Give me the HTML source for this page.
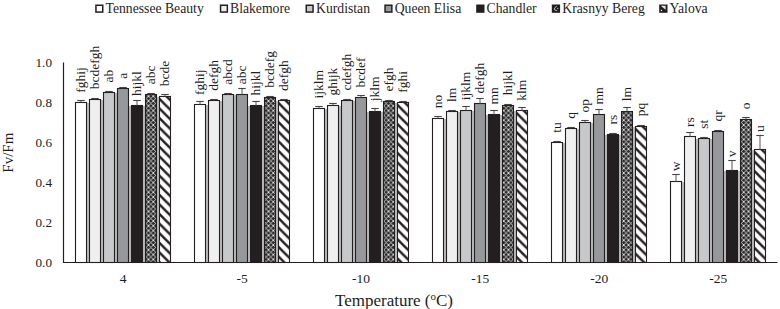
<!DOCTYPE html>
<html><head><meta charset="utf-8"><style>
html,body{margin:0;padding:0;background:#fff;}
body{width:780px;height:309px;overflow:hidden;}
svg{display:block;}
text{font-family:"Liberation Serif",serif;fill:#1e1e1e;}
</style></head><body>
<svg width="780" height="309" viewBox="0 0 780 309">
<defs>
<pattern id="kb" patternUnits="userSpaceOnUse" width="4.8" height="4.8" x="-0.3" y="0.2">
<rect width="4.8" height="4.8" fill="#2a2a2a"/>
<path d="M0,0L4.8,4.8M4.8,0L0,4.8" stroke="#e2e2e2" stroke-width="0.85"/>
<circle cx="0" cy="0" r="0.6" fill="#fff"/><circle cx="4.8" cy="0" r="0.6" fill="#fff"/><circle cx="0" cy="4.8" r="0.6" fill="#fff"/><circle cx="4.8" cy="4.8" r="0.6" fill="#fff"/>
</pattern>
<pattern id="ya" patternUnits="userSpaceOnUse" width="9.8" height="9.8">
<rect width="9.8" height="9.8" fill="#fff"/>
<path d="M-2,-2L11.8,11.8M-7,2.8L2.8,12.6M2.8,-7L12.6,2.8" stroke="#231f20" stroke-width="3.1"/>
</pattern>
</defs>

<line x1="63.5" y1="62.5" x2="63.5" y2="263" stroke="#231f20" stroke-width="1.2"/>
<line x1="63" y1="262.5" x2="777.5" y2="262.5" stroke="#231f20" stroke-width="1.2"/>
<text x="52" y="267.0" font-size="13.2" text-anchor="end">0.0</text>
<text x="52" y="227.0" font-size="13.2" text-anchor="end">0.2</text>
<text x="52" y="187.0" font-size="13.2" text-anchor="end">0.4</text>
<text x="52" y="147.0" font-size="13.2" text-anchor="end">0.6</text>
<text x="52" y="107.0" font-size="13.2" text-anchor="end">0.8</text>
<text x="52" y="67.0" font-size="13.2" text-anchor="end">1.0</text>
<text x="123.0" y="283.3" font-size="13.5" text-anchor="middle">4</text>
<text x="242.1" y="283.3" font-size="13.5" text-anchor="middle">-5</text>
<text x="361.1" y="283.3" font-size="13.5" text-anchor="middle">-10</text>
<text x="480.2" y="283.3" font-size="13.5" text-anchor="middle">-15</text>
<text x="599.2" y="283.3" font-size="13.5" text-anchor="middle">-20</text>
<text x="718.3" y="283.3" font-size="13.5" text-anchor="middle">-25</text>
<text x="394" y="305.6" font-size="17" text-anchor="middle">Temperature (<tspan font-size="11" dy="-6">o</tspan><tspan dy="6">C)</tspan></text>
<text transform="translate(13,152.7) rotate(-90)" font-size="15" text-anchor="middle">Fv/Fm</text>
<rect x="87" y="103" width="2" height="159" fill="#bdbdbd"/>
<rect x="101" y="100" width="2" height="162" fill="#bdbdbd"/>
<rect x="115" y="93" width="2" height="169" fill="#bdbdbd"/>
<rect x="129" y="106" width="2" height="156" fill="#bdbdbd"/>
<rect x="143" y="106" width="2" height="156" fill="#bdbdbd"/>
<rect x="157" y="97" width="2" height="165" fill="#bdbdbd"/>
<rect x="206" y="105" width="2" height="157" fill="#bdbdbd"/>
<rect x="220" y="101" width="2" height="161" fill="#bdbdbd"/>
<rect x="234" y="95" width="2" height="167" fill="#bdbdbd"/>
<rect x="248" y="106" width="2" height="156" fill="#bdbdbd"/>
<rect x="262" y="106" width="2" height="156" fill="#bdbdbd"/>
<rect x="276" y="101" width="2" height="161" fill="#bdbdbd"/>
<rect x="325" y="109" width="2" height="153" fill="#bdbdbd"/>
<rect x="339" y="106" width="2" height="156" fill="#bdbdbd"/>
<rect x="353" y="101" width="2" height="161" fill="#bdbdbd"/>
<rect x="367" y="112" width="2" height="150" fill="#bdbdbd"/>
<rect x="381" y="112" width="2" height="150" fill="#bdbdbd"/>
<rect x="395" y="103" width="2" height="159" fill="#bdbdbd"/>
<rect x="444" y="119" width="2" height="143" fill="#bdbdbd"/>
<rect x="458" y="112" width="2" height="150" fill="#bdbdbd"/>
<rect x="472" y="111" width="2" height="151" fill="#bdbdbd"/>
<rect x="486" y="115" width="2" height="147" fill="#bdbdbd"/>
<rect x="500" y="115" width="2" height="147" fill="#bdbdbd"/>
<rect x="514" y="111" width="2" height="151" fill="#bdbdbd"/>
<rect x="563" y="143" width="2" height="119" fill="#bdbdbd"/>
<rect x="577" y="129" width="2" height="133" fill="#bdbdbd"/>
<rect x="591" y="123" width="2" height="139" fill="#bdbdbd"/>
<rect x="605" y="135" width="2" height="127" fill="#bdbdbd"/>
<rect x="619" y="135" width="2" height="127" fill="#bdbdbd"/>
<rect x="633" y="127" width="2" height="135" fill="#bdbdbd"/>
<rect x="682" y="182" width="2" height="80" fill="#bdbdbd"/>
<rect x="696" y="139" width="2" height="123" fill="#bdbdbd"/>
<rect x="710" y="139" width="2" height="123" fill="#bdbdbd"/>
<rect x="724" y="171" width="2" height="91" fill="#bdbdbd"/>
<rect x="738" y="171" width="2" height="91" fill="#bdbdbd"/>
<rect x="752" y="150" width="2" height="112" fill="#bdbdbd"/>
<rect x="75.50" y="102.50" width="11" height="160.00" fill="#ffffff" stroke="#231f20" stroke-width="1.1"/>
<path d="M81.00,102.50V100.50" stroke="#555" stroke-width="1" fill="none"/>
<path d="M77.25,100.50H84.75" stroke="#444" stroke-width="1.1" fill="none"/>
<text transform="translate(84.56,92.70) rotate(-90)" font-size="13.5">fghij</text>
<rect x="89.50" y="99.50" width="11" height="163.00" fill="#efefef" stroke="#231f20" stroke-width="1.1"/>
<path d="M95.00,99.50V98.50" stroke="#555" stroke-width="1" fill="none"/>
<path d="M91.25,98.50H98.75" stroke="#444" stroke-width="1.1" fill="none"/>
<text transform="translate(98.56,89.20) rotate(-90)" font-size="13.5">bcdefgh</text>
<rect x="103.50" y="92.50" width="11" height="170.00" fill="#c7c8ca" stroke="#231f20" stroke-width="1.1"/>
<path d="M109.00,92.50V91.50" stroke="#555" stroke-width="1" fill="none"/>
<path d="M105.25,91.50H112.75" stroke="#444" stroke-width="1.1" fill="none"/>
<text transform="translate(112.56,82.50) rotate(-90)" font-size="13.5">ab</text>
<rect x="117.50" y="88.50" width="11" height="174.00" fill="#97989b" stroke="#231f20" stroke-width="1.1"/>
<path d="M123.00,88.50V87.50" stroke="#555" stroke-width="1" fill="none"/>
<path d="M119.25,87.50H126.75" stroke="#444" stroke-width="1.1" fill="none"/>
<text transform="translate(126.56,78.70) rotate(-90)" font-size="13.5">a</text>
<rect x="131.50" y="105.50" width="11" height="157.00" fill="#231f20" stroke="#231f20" stroke-width="1.1"/>
<path d="M137.00,105.50V100.50" stroke="#555" stroke-width="1" fill="none"/>
<path d="M133.25,100.50H140.75" stroke="#444" stroke-width="1.1" fill="none"/>
<text transform="translate(140.56,96.00) rotate(-90)" font-size="13.5">hijkl</text>
<rect x="145.50" y="94.50" width="11" height="168.00" fill="url(#kb)" stroke="#231f20" stroke-width="1.1"/>
<path d="M151.00,94.50V93.50" stroke="#555" stroke-width="1" fill="none"/>
<path d="M147.25,93.50H154.75" stroke="#444" stroke-width="1.1" fill="none"/>
<text transform="translate(154.56,84.20) rotate(-90)" font-size="13.5">abc</text>
<defs><pattern id="ya0" patternUnits="userSpaceOnUse" x="159" y="96.00" width="9.6" height="9.6"><rect width="9.6" height="9.6" fill="#fff"/><path d="M-3,-19.70L12.60,-4.10M-3,-10.10L12.60,5.50M-3,-0.50L12.60,15.10M-3,9.10L12.60,24.70" stroke="#231f20" stroke-width="2.40"/></pattern></defs>
<rect x="159.50" y="96.50" width="11" height="166.00" fill="url(#ya0)" stroke="#231f20" stroke-width="1.1"/>
<path d="M165.00,96.50V94.50" stroke="#555" stroke-width="1" fill="none"/>
<path d="M161.25,94.50H168.75" stroke="#444" stroke-width="1.1" fill="none"/>
<text transform="translate(168.56,86.20) rotate(-90)" font-size="13.5">bcde</text>
<rect x="194.50" y="104.50" width="11" height="158.00" fill="#ffffff" stroke="#231f20" stroke-width="1.1"/>
<path d="M200.00,104.50V101.50" stroke="#555" stroke-width="1" fill="none"/>
<path d="M196.25,101.50H203.75" stroke="#444" stroke-width="1.1" fill="none"/>
<text transform="translate(203.56,95.00) rotate(-90)" font-size="13.5">fghij</text>
<rect x="208.50" y="100.50" width="11" height="162.00" fill="#efefef" stroke="#231f20" stroke-width="1.1"/>
<path d="M214.00,100.50V99.50" stroke="#555" stroke-width="1" fill="none"/>
<path d="M210.25,99.50H217.75" stroke="#444" stroke-width="1.1" fill="none"/>
<text transform="translate(217.56,90.70) rotate(-90)" font-size="13.5">defgh</text>
<rect x="222.50" y="94.50" width="11" height="168.00" fill="#c7c8ca" stroke="#231f20" stroke-width="1.1"/>
<path d="M228.00,94.50V93.50" stroke="#555" stroke-width="1" fill="none"/>
<path d="M224.25,93.50H231.75" stroke="#444" stroke-width="1.1" fill="none"/>
<text transform="translate(231.56,84.70) rotate(-90)" font-size="13.5">abcd</text>
<rect x="236.50" y="94.50" width="11" height="168.00" fill="#97989b" stroke="#231f20" stroke-width="1.1"/>
<path d="M242.00,94.50V88.50" stroke="#555" stroke-width="1" fill="none"/>
<path d="M238.25,88.50H245.75" stroke="#444" stroke-width="1.1" fill="none"/>
<text transform="translate(245.56,84.20) rotate(-90)" font-size="13.5">abc</text>
<rect x="250.50" y="105.50" width="11" height="157.00" fill="#231f20" stroke="#231f20" stroke-width="1.1"/>
<path d="M256.00,105.50V101.50" stroke="#555" stroke-width="1" fill="none"/>
<path d="M252.25,101.50H259.75" stroke="#444" stroke-width="1.1" fill="none"/>
<text transform="translate(259.56,95.40) rotate(-90)" font-size="13.5">hijkl</text>
<rect x="264.50" y="97.50" width="11" height="165.00" fill="url(#kb)" stroke="#231f20" stroke-width="1.1"/>
<path d="M270.00,97.50V96.50" stroke="#555" stroke-width="1" fill="none"/>
<path d="M266.25,96.50H273.75" stroke="#444" stroke-width="1.1" fill="none"/>
<text transform="translate(273.56,87.70) rotate(-90)" font-size="13.5">bcdefg</text>
<defs><pattern id="ya1" patternUnits="userSpaceOnUse" x="278" y="100.00" width="9.6" height="9.6"><rect width="9.6" height="9.6" fill="#fff"/><path d="M-3,-19.70L12.60,-4.10M-3,-10.10L12.60,5.50M-3,-0.50L12.60,15.10M-3,9.10L12.60,24.70" stroke="#231f20" stroke-width="2.40"/></pattern></defs>
<rect x="278.50" y="100.50" width="11" height="162.00" fill="url(#ya1)" stroke="#231f20" stroke-width="1.1"/>
<path d="M284.00,100.50V99.50" stroke="#555" stroke-width="1" fill="none"/>
<path d="M280.25,99.50H287.75" stroke="#444" stroke-width="1.1" fill="none"/>
<text transform="translate(287.56,90.90) rotate(-90)" font-size="13.5">defgh</text>
<rect x="313.50" y="108.50" width="11" height="154.00" fill="#ffffff" stroke="#231f20" stroke-width="1.1"/>
<path d="M319.00,108.50V106.50" stroke="#555" stroke-width="1" fill="none"/>
<path d="M315.25,106.50H322.75" stroke="#444" stroke-width="1.1" fill="none"/>
<text transform="translate(322.56,98.40) rotate(-90)" font-size="13.5">ijklm</text>
<rect x="327.50" y="105.50" width="11" height="157.00" fill="#efefef" stroke="#231f20" stroke-width="1.1"/>
<path d="M333.00,105.50V103.50" stroke="#555" stroke-width="1" fill="none"/>
<path d="M329.25,103.50H336.75" stroke="#444" stroke-width="1.1" fill="none"/>
<text transform="translate(336.56,95.40) rotate(-90)" font-size="13.5">ghijk</text>
<rect x="341.50" y="100.50" width="11" height="162.00" fill="#c7c8ca" stroke="#231f20" stroke-width="1.1"/>
<path d="M347.00,100.50V99.50" stroke="#555" stroke-width="1" fill="none"/>
<path d="M343.25,99.50H350.75" stroke="#444" stroke-width="1.1" fill="none"/>
<text transform="translate(350.56,90.50) rotate(-90)" font-size="13.5">cdefgh</text>
<rect x="355.50" y="97.50" width="11" height="165.00" fill="#97989b" stroke="#231f20" stroke-width="1.1"/>
<path d="M361.00,97.50V95.50" stroke="#555" stroke-width="1" fill="none"/>
<path d="M357.25,95.50H364.75" stroke="#444" stroke-width="1.1" fill="none"/>
<text transform="translate(364.56,87.40) rotate(-90)" font-size="13.5">bcdef</text>
<rect x="369.50" y="111.50" width="11" height="151.00" fill="#231f20" stroke="#231f20" stroke-width="1.1"/>
<path d="M375.00,111.50V108.50" stroke="#555" stroke-width="1" fill="none"/>
<path d="M371.25,108.50H378.75" stroke="#444" stroke-width="1.1" fill="none"/>
<text transform="translate(378.56,101.20) rotate(-90)" font-size="13.5">jklm</text>
<rect x="383.50" y="101.50" width="11" height="161.00" fill="url(#kb)" stroke="#231f20" stroke-width="1.1"/>
<path d="M389.00,101.50V100.50" stroke="#555" stroke-width="1" fill="none"/>
<path d="M385.25,100.50H392.75" stroke="#444" stroke-width="1.1" fill="none"/>
<text transform="translate(392.56,91.40) rotate(-90)" font-size="13.5">efgh</text>
<defs><pattern id="ya2" patternUnits="userSpaceOnUse" x="397" y="102.00" width="9.6" height="9.6"><rect width="9.6" height="9.6" fill="#fff"/><path d="M-3,-19.70L12.60,-4.10M-3,-10.10L12.60,5.50M-3,-0.50L12.60,15.10M-3,9.10L12.60,24.70" stroke="#231f20" stroke-width="2.40"/></pattern></defs>
<rect x="397.50" y="102.50" width="11" height="160.00" fill="url(#ya2)" stroke="#231f20" stroke-width="1.1"/>
<path d="M403.00,102.50V101.50" stroke="#555" stroke-width="1" fill="none"/>
<path d="M399.25,101.50H406.75" stroke="#444" stroke-width="1.1" fill="none"/>
<text transform="translate(406.56,92.70) rotate(-90)" font-size="13.5">fghi</text>
<rect x="432.50" y="118.50" width="11" height="144.00" fill="#ffffff" stroke="#231f20" stroke-width="1.1"/>
<path d="M438.00,118.50V116.50" stroke="#555" stroke-width="1" fill="none"/>
<path d="M434.25,116.50H441.75" stroke="#444" stroke-width="1.1" fill="none"/>
<text transform="translate(441.56,108.20) rotate(-90)" font-size="13.5">no</text>
<rect x="446.50" y="111.50" width="11" height="151.00" fill="#efefef" stroke="#231f20" stroke-width="1.1"/>
<path d="M452.00,111.50V110.50" stroke="#555" stroke-width="1" fill="none"/>
<path d="M448.25,110.50H455.75" stroke="#444" stroke-width="1.1" fill="none"/>
<text transform="translate(455.56,102.00) rotate(-90)" font-size="13.5">lm</text>
<rect x="460.50" y="110.50" width="11" height="152.00" fill="#c7c8ca" stroke="#231f20" stroke-width="1.1"/>
<path d="M466.00,110.50V106.50" stroke="#555" stroke-width="1" fill="none"/>
<path d="M462.25,106.50H469.75" stroke="#444" stroke-width="1.1" fill="none"/>
<text transform="translate(469.56,100.20) rotate(-90)" font-size="13.5">ijklm</text>
<rect x="474.50" y="103.50" width="11" height="159.00" fill="#97989b" stroke="#231f20" stroke-width="1.1"/>
<path d="M480.00,103.50V98.50" stroke="#555" stroke-width="1" fill="none"/>
<path d="M476.25,98.50H483.75" stroke="#444" stroke-width="1.1" fill="none"/>
<text transform="translate(483.56,93.40) rotate(-90)" font-size="13.5">defgh</text>
<rect x="488.50" y="114.50" width="11" height="148.00" fill="#231f20" stroke="#231f20" stroke-width="1.1"/>
<path d="M494.00,114.50V110.50" stroke="#555" stroke-width="1" fill="none"/>
<path d="M490.25,110.50H497.75" stroke="#444" stroke-width="1.1" fill="none"/>
<text transform="translate(497.56,104.40) rotate(-90)" font-size="13.5">mn</text>
<rect x="502.50" y="105.50" width="11" height="157.00" fill="url(#kb)" stroke="#231f20" stroke-width="1.1"/>
<path d="M508.00,105.50V104.50" stroke="#555" stroke-width="1" fill="none"/>
<path d="M504.25,104.50H511.75" stroke="#444" stroke-width="1.1" fill="none"/>
<text transform="translate(511.56,95.20) rotate(-90)" font-size="13.5">hijkl</text>
<defs><pattern id="ya3" patternUnits="userSpaceOnUse" x="516" y="110.00" width="9.6" height="9.6"><rect width="9.6" height="9.6" fill="#fff"/><path d="M-3,-19.70L12.60,-4.10M-3,-10.10L12.60,5.50M-3,-0.50L12.60,15.10M-3,9.10L12.60,24.70" stroke="#231f20" stroke-width="2.40"/></pattern></defs>
<rect x="516.50" y="110.50" width="11" height="152.00" fill="url(#ya3)" stroke="#231f20" stroke-width="1.1"/>
<path d="M522.00,110.50V107.50" stroke="#555" stroke-width="1" fill="none"/>
<path d="M518.25,107.50H525.75" stroke="#444" stroke-width="1.1" fill="none"/>
<text transform="translate(525.56,100.70) rotate(-90)" font-size="13.5">klm</text>
<rect x="551.50" y="142.50" width="11" height="120.00" fill="#ffffff" stroke="#231f20" stroke-width="1.1"/>
<path d="M557.00,142.50V141.50" stroke="#555" stroke-width="1" fill="none"/>
<path d="M553.25,141.50H560.75" stroke="#444" stroke-width="1.1" fill="none"/>
<text transform="translate(560.56,132.70) rotate(-90)" font-size="13.5">tu</text>
<rect x="565.50" y="128.50" width="11" height="134.00" fill="#efefef" stroke="#231f20" stroke-width="1.1"/>
<path d="M571.00,128.50V127.50" stroke="#555" stroke-width="1" fill="none"/>
<path d="M567.25,127.50H574.75" stroke="#444" stroke-width="1.1" fill="none"/>
<text transform="translate(574.56,118.80) rotate(-90)" font-size="13.5">q</text>
<rect x="579.50" y="122.50" width="11" height="140.00" fill="#c7c8ca" stroke="#231f20" stroke-width="1.1"/>
<path d="M585.00,122.50V120.50" stroke="#555" stroke-width="1" fill="none"/>
<path d="M581.25,120.50H588.75" stroke="#444" stroke-width="1.1" fill="none"/>
<text transform="translate(588.56,112.40) rotate(-90)" font-size="13.5">op</text>
<rect x="593.50" y="114.50" width="11" height="148.00" fill="#97989b" stroke="#231f20" stroke-width="1.1"/>
<path d="M599.00,114.50V109.50" stroke="#555" stroke-width="1" fill="none"/>
<path d="M595.25,109.50H602.75" stroke="#444" stroke-width="1.1" fill="none"/>
<text transform="translate(602.56,104.40) rotate(-90)" font-size="13.5">mn</text>
<rect x="607.50" y="134.50" width="11" height="128.00" fill="#231f20" stroke="#231f20" stroke-width="1.1"/>
<path d="M613.00,134.50V133.50" stroke="#555" stroke-width="1" fill="none"/>
<path d="M609.25,133.50H616.75" stroke="#444" stroke-width="1.1" fill="none"/>
<text transform="translate(616.56,124.40) rotate(-90)" font-size="13.5">rs</text>
<rect x="621.50" y="111.50" width="11" height="151.00" fill="url(#kb)" stroke="#231f20" stroke-width="1.1"/>
<path d="M627.00,111.50V107.50" stroke="#555" stroke-width="1" fill="none"/>
<path d="M623.25,107.50H630.75" stroke="#444" stroke-width="1.1" fill="none"/>
<text transform="translate(630.56,101.20) rotate(-90)" font-size="13.5">lm</text>
<defs><pattern id="ya4" patternUnits="userSpaceOnUse" x="635" y="126.00" width="9.6" height="9.6"><rect width="9.6" height="9.6" fill="#fff"/><path d="M-3,-19.70L12.60,-4.10M-3,-10.10L12.60,5.50M-3,-0.50L12.60,15.10M-3,9.10L12.60,24.70" stroke="#231f20" stroke-width="2.40"/></pattern></defs>
<rect x="635.50" y="126.50" width="11" height="136.00" fill="url(#ya4)" stroke="#231f20" stroke-width="1.1"/>
<path d="M641.00,126.50V125.50" stroke="#555" stroke-width="1" fill="none"/>
<path d="M637.25,125.50H644.75" stroke="#444" stroke-width="1.1" fill="none"/>
<text transform="translate(644.56,116.20) rotate(-90)" font-size="13.5">pq</text>
<rect x="670.50" y="181.50" width="11" height="81.00" fill="#ffffff" stroke="#231f20" stroke-width="1.1"/>
<path d="M676.00,181.50V174.50" stroke="#555" stroke-width="1" fill="none"/>
<path d="M672.25,174.50H679.75" stroke="#444" stroke-width="1.1" fill="none"/>
<text transform="translate(679.56,171.20) rotate(-90)" font-size="13.5">w</text>
<rect x="684.50" y="136.50" width="11" height="126.00" fill="#efefef" stroke="#231f20" stroke-width="1.1"/>
<path d="M690.00,136.50V132.50" stroke="#555" stroke-width="1" fill="none"/>
<path d="M686.25,132.50H693.75" stroke="#444" stroke-width="1.1" fill="none"/>
<text transform="translate(693.56,127.00) rotate(-90)" font-size="13.5">rs</text>
<rect x="698.50" y="138.50" width="11" height="124.00" fill="#c7c8ca" stroke="#231f20" stroke-width="1.1"/>
<path d="M704.00,138.50V137.50" stroke="#555" stroke-width="1" fill="none"/>
<path d="M700.25,137.50H707.75" stroke="#444" stroke-width="1.1" fill="none"/>
<text transform="translate(707.56,128.70) rotate(-90)" font-size="13.5">st</text>
<rect x="712.50" y="131.50" width="11" height="131.00" fill="#97989b" stroke="#231f20" stroke-width="1.1"/>
<path d="M718.00,131.50V130.50" stroke="#555" stroke-width="1" fill="none"/>
<path d="M714.25,130.50H721.75" stroke="#444" stroke-width="1.1" fill="none"/>
<text transform="translate(721.56,121.40) rotate(-90)" font-size="13.5">qr</text>
<rect x="726.50" y="170.50" width="11" height="92.00" fill="#231f20" stroke="#231f20" stroke-width="1.1"/>
<path d="M732.00,170.50V160.50" stroke="#555" stroke-width="1" fill="none"/>
<path d="M728.25,160.50H735.75" stroke="#444" stroke-width="1.1" fill="none"/>
<text transform="translate(735.56,157.20) rotate(-90)" font-size="13.5">v</text>
<rect x="740.50" y="119.50" width="11" height="143.00" fill="url(#kb)" stroke="#231f20" stroke-width="1.1"/>
<path d="M746.00,119.50V117.50" stroke="#555" stroke-width="1" fill="none"/>
<path d="M742.25,117.50H749.75" stroke="#444" stroke-width="1.1" fill="none"/>
<text transform="translate(749.56,109.20) rotate(-90)" font-size="13.5">o</text>
<defs><pattern id="ya5" patternUnits="userSpaceOnUse" x="754" y="149.00" width="9.6" height="9.6"><rect width="9.6" height="9.6" fill="#fff"/><path d="M-3,-19.70L12.60,-4.10M-3,-10.10L12.60,5.50M-3,-0.50L12.60,15.10M-3,9.10L12.60,24.70" stroke="#231f20" stroke-width="2.40"/></pattern></defs>
<rect x="754.50" y="149.50" width="11" height="113.00" fill="url(#ya5)" stroke="#231f20" stroke-width="1.1"/>
<path d="M760.00,149.50V135.50" stroke="#555" stroke-width="1" fill="none"/>
<path d="M756.25,135.50H763.75" stroke="#444" stroke-width="1.1" fill="none"/>
<text transform="translate(763.56,132.00) rotate(-90)" font-size="13.5">u</text>
<rect x="95.95" y="5.25" width="6.8" height="6.8" fill="#ffffff" stroke="#231f20" stroke-width="1.5"/>
<text x="105.5" y="12.8" font-size="13.7">Tennessee Beauty</text>
<rect x="220.55" y="5.25" width="6.8" height="6.8" fill="#efefef" stroke="#231f20" stroke-width="1.5"/>
<text x="230.0" y="12.8" font-size="13.7">Blakemore</text>
<rect x="306.25" y="5.25" width="6.8" height="6.8" fill="#c7c8ca" stroke="#231f20" stroke-width="1.5"/>
<text x="316.0" y="12.8" font-size="13.7">Kurdistan</text>
<rect x="385.05" y="5.25" width="6.8" height="6.8" fill="#97989b" stroke="#231f20" stroke-width="1.5"/>
<text x="394.7" y="12.8" font-size="13.7">Queen Elisa</text>
<rect x="476.95" y="5.25" width="6.8" height="6.8" fill="#231f20" stroke="#231f20" stroke-width="1.5"/>
<text x="486.5" y="12.8" font-size="13.7">Chandler</text>
<rect x="552.55" y="5.25" width="6.8" height="6.8" fill="#231f20" stroke="#231f20" stroke-width="1.5"/>
<path d="M556.75,6.25L554.35,8.05L554.75,10.05L557.15,10.65" stroke="#ddd" stroke-width="0.8" fill="none"/>
<circle cx="557.75" cy="8.25" r="0.6" fill="#fff"/>
<text x="562.3" y="12.8" font-size="13.7">Krasnyy Bereg</text>
<rect x="659.95" y="5.25" width="6.8" height="6.8" fill="#231f20" stroke="#231f20" stroke-width="1.5"/>
<path d="M660.85,5.85L665.55,5.85L665.55,9.85Z" fill="#fff" opacity="0.9"/>
<circle cx="661.45" cy="10.45" r="0.7" fill="#fff"/>
<text x="669.5" y="12.8" font-size="13.7">Yalova</text>
</svg></body></html>
